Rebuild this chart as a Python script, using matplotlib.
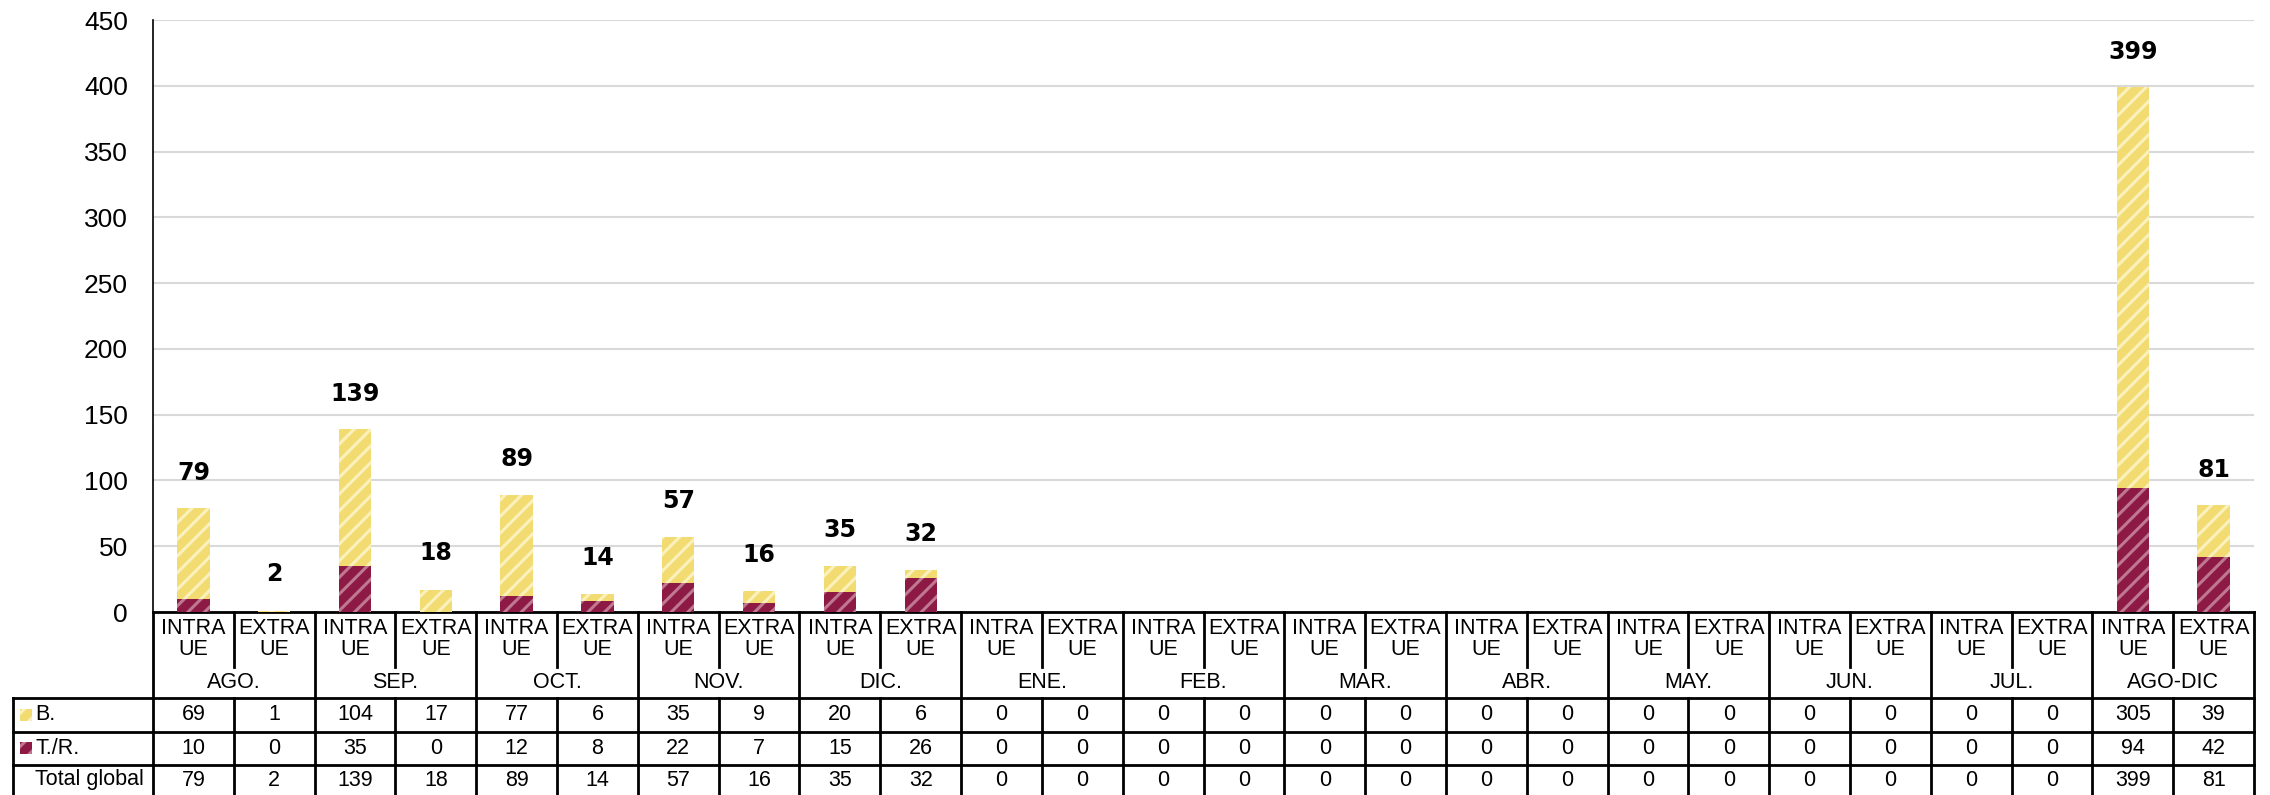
import numpy as np
import matplotlib.pyplot as plt

# data
months = ['AGO.', 'SEP.', 'OCT.', 'NOV.', 'DIC.', 'ENE.', 'FEB.', 'MAR.',
          'ABR.', 'MAY.', 'JUN.', 'JUL.', 'AGO-DIC']
sub_labels = ['INTRA\nUE', 'EXTRA\nUE']
b_values = [69, 1, 104, 17, 77, 6, 35, 9, 20, 6, 0, 0, 0, 0, 0, 0,
            0, 0, 0, 0, 0, 0, 0, 0, 305, 39]
tr_values = [10, 0, 35, 0, 12, 8, 22, 7, 15, 26, 0, 0, 0, 0, 0, 0,
             0, 0, 0, 0, 0, 0, 0, 0, 94, 42]
total_values = [79, 2, 139, 18, 89, 14, 57, 16, 35, 32, 0, 0, 0, 0, 0, 0,
                0, 0, 0, 0, 0, 0, 0, 0, 399, 81]
row_labels = ['B.', 'T./R.', 'Total global']

yellow = '#f2dc72'
yellow_hatch = '#fbf1bd'
maroon = '#8c1a45'
maroon_hatch = '#c07890'

plt.rcParams['font.family'] = ['Liberation Sans', 'DejaVu Sans']
plt.rcParams['hatch.linewidth'] = 2.2

W, H = 2270, 795
fig = plt.figure(figsize=(W / 100, H / 100), dpi=100)

left_px, right_px, top_px, zero_px = 153, 2254, 20, 612
ax = fig.add_axes([left_px / W, (H - zero_px) / H,
                   (right_px - left_px) / W, (zero_px - top_px) / H])
n = len(b_values)
x = np.arange(n)
bw = 0.4
ax.bar(x, tr_values, bw, color=maroon, edgecolor=maroon_hatch, hatch='//',
       linewidth=0, zorder=3)
ax.bar(x, b_values, bw, bottom=tr_values, color=yellow, edgecolor=yellow_hatch,
       hatch='//', linewidth=0, zorder=3)
for xi, t in zip(x, total_values):
    if t > 0:
        ax.text(xi, t + 27, str(t), ha='center', va='center', fontsize=17,
                fontweight='bold', family='DejaVu Sans')

ax.set_xlim(-0.5, n - 0.5)
ax.set_ylim(0, 450)
ax.set_yticks(np.arange(0, 451, 50))
ax.set_xticks([])
ax.tick_params(axis='y', length=0, labelsize=19, pad=18)
ax.grid(axis='y', color='#d9d9d9', linewidth=1.5, zorder=0)
for s in ['top', 'right']:
    ax.spines[s].set_visible(False)
ax.spines['left'].set_linewidth(1.2)
ax.spines['bottom'].set_linewidth(2)

# table below the axis
tax = fig.add_axes([left_px / W, 0, (right_px - left_px) / W, (H - zero_px) / H])
tax.set_xlim(-0.5, n - 0.5)
tax.set_ylim(H - zero_px, 0)
tax.axis('off')
colw = (right_px - left_px) / n


def px2x(px):
    return -0.5 + (px - left_px) / colw


lw = 2
kw = dict(color='black', linewidth=lw, clip_on=False, solid_capstyle='projecting')
y_sub, y_month, y_b, y_tr, y_end = 55, 86, 120, 153, 183
x_left = px2x(13)

# horizontal lines
tax.plot([x_left, n - 0.5], [y_month, y_month], **kw)
tax.plot([x_left, n - 0.5], [y_b, y_b], **kw)
tax.plot([x_left, n - 0.5], [y_tr, y_tr], **kw)
# vertical lines
tax.plot([x_left, x_left], [y_month, y_end], **kw)
for k in range(n + 1):
    xb = k - 0.5
    if k % 2 == 0:
        tax.plot([xb, xb], [0, y_end], **kw)
    else:
        tax.plot([xb, xb], [0, y_sub], **kw)
        tax.plot([xb, xb], [y_month, y_end], **kw)

fs = 15.5
for i in range(n):
    tax.text(i, 27, sub_labels[i % 2], ha='center', va='center', fontsize=fs,
             linespacing=1.0)
for j, m in enumerate(months):
    tax.text(2 * j + 0.5, 71, m, ha='center', va='center', fontsize=fs)

row_y = [103, 136, 168]
rows = [b_values, tr_values, total_values]
for ry, vals in zip(row_y, rows):
    for i, v in enumerate(vals):
        tax.text(i, ry, str(v), ha='center', va='center', fontsize=fs)

# legend keys inside the row labels
kx0, kx1 = px2x(20), px2x(32)
for ry, c, hc in [(row_y[0], yellow, yellow_hatch), (row_y[1], maroon, maroon_hatch)]:
    tax.bar((kx0 + kx1) / 2, 12, kx1 - kx0, bottom=ry - 6, color=c, edgecolor=hc,
            hatch='//', linewidth=0, clip_on=False)
for ry, lab in zip(row_y, row_labels):
    tax.text(px2x(35), ry, lab, ha='left', va='center', fontsize=fs)

fig.savefig('out.png', dpi=100)
